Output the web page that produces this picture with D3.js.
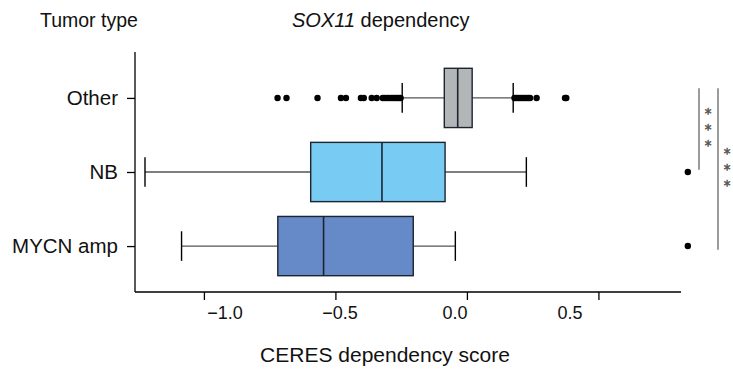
<!DOCTYPE html>
<html>
<head>
<meta charset="utf-8">
<script src="https://cdn.jsdelivr.net/npm/d3@7"></script>
<style>
  html, body { margin: 0; padding: 0; background: #fff; }
  svg { display: block; font-family: "Liberation Sans", Arial, Helvetica, sans-serif; }
</style>
</head>
<body>
<svg id="chart" width="733" height="377"></svg>
<script>
// Tumor types, listed bottom to top (position 1, 2, 3 on the y axis)
const categories = ["MYCN amp", "NB", "Other"];
const boxFill = ["#6689C8", "#78CBF2", "#B3B6B6"];

// Box-and-whisker summaries of CERES scores per tumor type
const lowerWhisker = [-1.085, -1.224, -0.246];
const quartile1    = [-0.719, -0.594, -0.086];
const medians      = [-0.545, -0.323, -0.035];
const quartile3    = [-0.204, -0.083, 0.020];
const upperWhisker = [-0.044, 0.226, 0.176];

// Outlying cell lines per tumor type
const outliersMYCNamp = [0.84];
const outliersNB = [0.84];
const outliersOther = [-0.720, -0.686, -0.568, -0.479, -0.460, -0.403, -0.392,
  -0.362, -0.343, -0.320, -0.312, -0.303, -0.295, -0.287, -0.280, -0.272, -0.265,
  -0.258, -0.252, 0.181, 0.188, 0.195, 0.202, 0.210, 0.218, 0.226, 0.233, 0.240,
  0.265, 0.373, 0.378];
const outliers = [outliersMYCNamp, outliersNB, outliersOther];

// Axis ticks
const tickValues = [-1.0, -0.5, 0.0, 0.5];
const tickLabels = ["\u22121.0", "\u22120.5", "0.0", "0.5"];

// Pairwise significance brackets: [from, to] category index, label
const comparisons = [[2, 1], [2, 0]];
const comparisonLabels = ["***", "***"];

const svg = d3.select("#chart");
const font = '"Liberation Sans", Arial, Helvetica, sans-serif';

const x = d3.scaleLinear().domain([-1.262, 0.814]).range([135, 681]);
const xLabel = d3.scaleLinear().domain(x.domain()).range([164.7, 642.2]);
const y = d3.scaleLinear().domain([0.38, 3.62]).range([292, 52]);
const pos = i => i + 1;
const halfBox = 0.4, halfCap = 0.2;

// Axes (L-shaped frame)
svg.append("line").attr("x1", x.range()[0]).attr("x2", x.range()[0])
  .attr("y1", y.range()[1]).attr("y2", y.range()[0])
  .attr("stroke", "#000").attr("stroke-width", 1.3);
svg.append("line").attr("x1", x.range()[0]).attr("x2", x.range()[1])
  .attr("y1", y.range()[0]).attr("y2", y.range()[0])
  .attr("stroke", "#000").attr("stroke-width", 1.3);

const xAxis = svg.append("g").attr("transform", `translate(0,${y.range()[0]})`)
  .call(d3.axisBottom(x).tickValues(tickValues).tickSize(8).tickFormat(""));
xAxis.select(".domain").remove();
xAxis.selectAll(".tick line").attr("stroke", "#000").attr("stroke-width", 1.3);

svg.append("g").selectAll("text").data(tickValues).join("text")
  .attr("x", d => xLabel(d)).attr("y", 319)
  .attr("text-anchor", "middle").attr("font-size", 18).attr("fill", "#111")
  .text((d, i) => tickLabels[i]);

const yAxis = svg.append("g").attr("transform", `translate(${x.range()[0]},0)`)
  .call(d3.axisLeft(y).tickValues(categories.map((c, i) => pos(i))).tickSize(8)
    .tickPadding(9).tickFormat((d, i) => categories[i]));
yAxis.select(".domain").remove();
yAxis.selectAll(".tick line").attr("stroke", "#000").attr("stroke-width", 1.3);
yAxis.selectAll(".tick text").attr("font-size", 20.5).attr("fill", "#111")
  .attr("font-family", font);

// Whiskers, boxes, medians and outliers
const g = svg.append("g");
categories.forEach((c, i) => {
  const p = pos(i);
  [[lowerWhisker[i], quartile1[i]], [quartile3[i], upperWhisker[i]]].forEach(([a, b]) => {
    g.append("line").attr("x1", x(a)).attr("x2", x(b)).attr("y1", y(p)).attr("y2", y(p))
      .attr("stroke", "#555").attr("stroke-width", 1.3);
  });
  [lowerWhisker[i], upperWhisker[i]].forEach(v => {
    g.append("line").attr("x1", x(v)).attr("x2", x(v))
      .attr("y1", y(p + halfCap)).attr("y2", y(p - halfCap))
      .attr("stroke", "#000").attr("stroke-width", 1.4);
  });
  g.append("rect").attr("x", x(quartile1[i])).attr("width", x(quartile3[i]) - x(quartile1[i]))
    .attr("y", y(p + halfBox)).attr("height", y(p - halfBox) - y(p + halfBox))
    .attr("fill", boxFill[i]).attr("stroke", "#1c2430").attr("stroke-width", 1.4);
  g.append("line").attr("x1", x(medians[i])).attr("x2", x(medians[i]))
    .attr("y1", y(p + halfBox)).attr("y2", y(p - halfBox))
    .attr("stroke", "#1c2430").attr("stroke-width", 1.6);
  g.selectAll(null).data(outliers[i]).join("circle")
    .attr("cx", d => x(d)).attr("cy", y(p)).attr("r", 3.2).attr("fill", "#000");
});

// Significance brackets with vertically stacked asterisks
const sig = svg.append("g");
const bracketX = [699, 718];
const starSize = 13.4;
comparisons.forEach(([a, b], k) => {
  const top = y(pos(a) + 0.13);
  const bottom = k === 0 ? y(pos(b) + 0.03) : y(pos(b) - 0.05);
  sig.append("line").attr("x1", bracketX[k]).attr("x2", bracketX[k])
    .attr("y1", top).attr("y2", bottom).attr("stroke", "#666").attr("stroke-width", 1.3);
  const mid = (y(pos(a)) + y(pos(b))) / 2 - (k === 0 ? 7.5 : 4.5);
  comparisonLabels[k].split("").forEach((s, j) => {
    sig.append("text").attr("x", bracketX[k] + 9)
      .attr("y", mid + (j - 1) * 15.7 + starSize * 0.48)
      .attr("text-anchor", "middle").attr("font-family", '"DejaVu Sans", sans-serif')
      .attr("font-size", starSize).attr("fill", "#555")
      .attr("stroke", "#555").attr("stroke-width", 0.5).text(s);
  });
});

// Titles
svg.append("text").attr("x", 40).attr("y", 27).attr("font-size", 19.5).attr("fill", "#111")
  .text("Tumor type");
const title = svg.append("text").attr("x", 292).attr("y", 27).attr("font-size", 20).attr("fill", "#111");
title.append("tspan").attr("font-style", "italic").text("SOX11");
title.append("tspan").text(" dependency");
svg.append("text").attr("x", 385).attr("y", 362).attr("text-anchor", "middle")
  .attr("font-size", 21).attr("fill", "#111").text("CERES dependency score");
</script>
</body>
</html>
